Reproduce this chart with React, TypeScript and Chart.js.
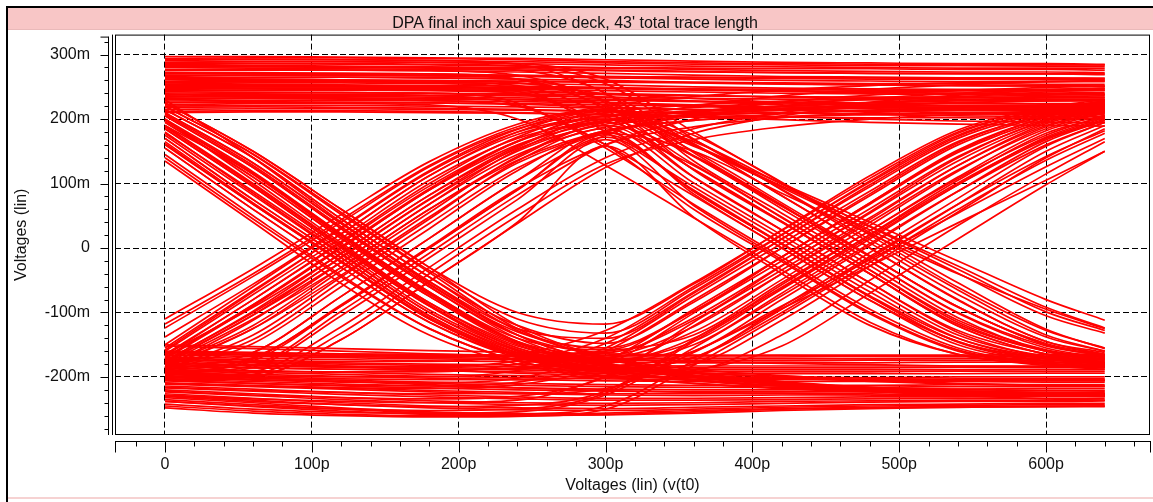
import React, { useEffect, useRef } from 'react';
import { Chart, registerables } from 'chart.js';

Chart.register(...registerables);

// ---------- text ----------
const chartTitle = "DPA final inch xaui spice deck, 43' total trace length";
const xAxisTitle = 'Voltages (lin) (v(t0)';
const yAxisTitle = 'Voltages (lin)';

// ---------- ticks ----------
const xTickValues = [0, 100, 200, 300, 400, 500, 600];
const xTickLabels = ['0', '100p', '200p', '300p', '400p', '500p', '600p'];
const yTickValues = [-200, -100, 0, 100, 200, 300];
const yTickLabels = ['-200m', '-100m', '0', '100m', '200m', '300m'];

// ---------- data (time in ps, voltage in mV) ----------
const sampleTimes = [0, 60, 120, 180, 240, 300, 360, 420, 480, 540, 600, 640];

// 1-1-1 : stays high
const highHigh = [
  [297, 297, 296, 295, 294, 292, 290, 288, 287, 286, 286, 285],
  [294, 295, 295, 294, 292, 289, 287, 286, 285, 284, 284, 284],
  [291, 292, 292, 291, 289, 287, 285, 284, 283, 283, 282, 282],
  [288, 289, 289, 288, 286, 284, 282, 281, 280, 279, 279, 279],
  [286, 286, 285, 284, 282, 280, 279, 278, 278, 277, 277, 276],
  [283, 283, 282, 281, 280, 279, 277, 275, 274, 273, 273, 272],
  [281, 281, 280, 279, 278, 276, 274, 272, 271, 271, 270, 270],
  [277, 278, 278, 277, 276, 275, 273, 272, 271, 270, 270, 269],
  [275, 276, 276, 275, 273, 271, 268, 266, 265, 264, 264, 263],
  [272, 272, 271, 270, 268, 266, 264, 263, 262, 262, 261, 261],
  [270, 270, 269, 268, 267, 266, 265, 264, 264, 263, 263, 263],
  [267, 268, 268, 267, 266, 264, 262, 260, 259, 258, 258, 258],
  [264, 265, 265, 264, 262, 260, 257, 255, 253, 252, 252, 251],
  [262, 262, 261, 260, 259, 258, 257, 256, 255, 255, 254, 254],
  [259, 260, 260, 259, 258, 257, 256, 254, 253, 252, 251, 251],
  [257, 258, 258, 257, 255, 253, 250, 248, 247, 246, 246, 245],
  [254, 254, 253, 252, 251, 249, 246, 243, 241, 240, 239, 239],
  [252, 252, 251, 250, 249, 248, 247, 246, 245, 245, 244, 244],
  [249, 250, 250, 249, 248, 247, 245, 244, 243, 242, 242, 241],
  [247, 248, 248, 247, 246, 244, 242, 240, 239, 238, 238, 238],
  [246, 247, 247, 246, 244, 239, 232, 226, 222, 220, 219, 219],
  [244, 245, 245, 244, 242, 240, 237, 234, 232, 231, 230, 230],
  [242, 242, 241, 240, 239, 238, 236, 235, 234, 234, 233, 233],
  [240, 241, 241, 240, 238, 234, 228, 222, 218, 216, 215, 215],
  [237, 238, 238, 237, 236, 234, 232, 231, 230, 229, 229, 229],
  [234, 235, 235, 234, 233, 231, 228, 225, 223, 221, 220, 220],
  [232, 233, 233, 232, 230, 226, 220, 215, 212, 210, 209, 209],
  [231, 232, 232, 231, 230, 229, 227, 226, 225, 224, 224, 224],
  [228, 229, 229, 228, 227, 225, 222, 219, 216, 214, 213, 213],
  [226, 227, 226, 225, 224, 222, 220, 219, 218, 218, 217, 217],
  [225, 226, 226, 225, 223, 219, 214, 210, 207, 205, 204, 204],
  [220, 221, 221, 220, 219, 217, 215, 214, 213, 213, 212, 212],
  [218, 219, 218, 217, 215, 212, 208, 204, 200, 197, 195, 194],
  [215, 216, 216, 215, 214, 212, 210, 209, 208, 208, 207, 207],
  [212, 213, 213, 212, 210, 207, 203, 199, 195, 192, 190, 189],
  [210, 211, 211, 210, 209, 207, 205, 203, 202, 202, 201, 201],
];

// 0-0-0 : stays low
const lowLow = [
  [-238, -246, -253, -258, -260, -259, -256, -252, -249, -247, -246, -245],
  [-235, -243, -250, -256, -259, -258, -254, -250, -248, -247, -246, -246],
  [-232, -240, -248, -254, -257, -256, -252, -249, -247, -246, -245, -245],
  [-229, -236, -243, -248, -251, -252, -250, -247, -245, -244, -243, -243],
  [-226, -233, -240, -245, -248, -249, -247, -245, -243, -242, -241, -241],
  [-223, -229, -235, -240, -243, -244, -243, -241, -239, -238, -238, -237],
  [-220, -226, -232, -237, -240, -241, -240, -238, -237, -236, -236, -236],
  [-217, -222, -227, -231, -234, -236, -236, -235, -234, -233, -233, -233],
  [-214, -219, -224, -228, -231, -233, -233, -232, -231, -231, -230, -230],
  [-211, -215, -219, -223, -226, -228, -229, -228, -228, -227, -227, -227],
  [-209, -213, -217, -221, -224, -226, -226, -225, -225, -224, -224, -224],
  [-206, -210, -214, -217, -220, -222, -223, -223, -222, -222, -221, -221],
  [-204, -207, -211, -214, -217, -219, -220, -220, -219, -219, -218, -218],
  [-201, -204, -207, -210, -213, -215, -216, -216, -216, -215, -215, -215],
  [-199, -202, -205, -208, -210, -212, -213, -213, -213, -212, -212, -212],
  [-196, -201, -207, -212, -217, -221, -224, -226, -228, -229, -229, -229],
  [-194, -196, -199, -202, -204, -206, -207, -207, -207, -206, -206, -206],
  [-191, -193, -196, -199, -201, -203, -204, -204, -204, -203, -203, -203],
  [-189, -191, -193, -196, -198, -200, -201, -201, -201, -200, -200, -200],
  [-184, -186, -188, -190, -192, -194, -195, -195, -195, -195, -194, -194],
  [-181, -183, -185, -187, -189, -191, -192, -192, -192, -191, -191, -191],
  [-179, -181, -183, -185, -187, -188, -189, -189, -189, -189, -188, -188],
  [-176, -178, -180, -182, -184, -185, -186, -186, -186, -185, -185, -185],
  [-174, -176, -178, -180, -181, -182, -183, -183, -183, -183, -183, -182],
  [-172, -177, -183, -189, -194, -198, -201, -203, -204, -205, -205, -205],
  [-169, -171, -173, -175, -176, -177, -178, -178, -178, -177, -177, -177],
  [-166, -168, -170, -172, -173, -174, -175, -175, -174, -174, -174, -173],
  [-164, -166, -168, -170, -171, -172, -172, -172, -172, -171, -171, -171],
  [-162, -163, -165, -167, -168, -169, -169, -169, -168, -168, -168, -167],
  [-160, -162, -164, -165, -166, -167, -167, -166, -166, -166, -165, -165],
  [-152, -156, -160, -164, -168, -172, -176, -179, -181, -183, -184, -184],
  [-150, -153, -156, -159, -162, -164, -166, -167, -168, -168, -168, -168],
];

// 1-0-0 : falls, then stays low
const fallStayLow = [
  [135, 40, -55, -135, -180, -200, -210, -217, -222, -225, -227, -228],
  [145, 50, -42, -125, -175, -198, -210, -218, -223, -226, -228, -229],
  [155, 60, -30, -115, -168, -190, -198, -202, -205, -207, -208, -208],
  [162, 68, -22, -110, -167, -193, -206, -214, -219, -222, -224, -225],
  [170, 75, -15, -105, -163, -186, -194, -199, -202, -204, -205, -205],
  [178, 88, -4, -96, -158, -189, -204, -214, -221, -226, -229, -230],
  [185, 95, 0, -90, -155, -188, -204, -214, -220, -224, -226, -227],
  [195, 110, 15, -75, -146, -180, -193, -201, -207, -211, -213, -214],
  [198, 116, 20, -70, -146, -184, -201, -212, -219, -224, -227, -228],
  [205, 125, 30, -60, -140, -180, -198, -210, -218, -223, -226, -227],
  [210, 132, 38, -52, -135, -178, -197, -209, -217, -222, -225, -226],
  [215, 140, 45, -45, -128, -170, -188, -198, -205, -210, -213, -214],
  [220, 145, 52, -38, -125, -172, -194, -208, -217, -223, -227, -229],
  [225, 150, 60, -30, -120, -170, -193, -207, -216, -222, -226, -228],
  [200, 105, 8, -85, -150, -183, -200, -211, -219, -225, -229, -230],
  [230, 140, 40, -55, -135, -178, -198, -212, -222, -229, -234, -236],
  [180, 85, -8, -100, -160, -190, -205, -214, -220, -224, -226, -227],
  [190, 115, 22, -68, -145, -182, -200, -210, -216, -219, -221, -222],
];

// 1-0-1 : falls, then rises
const fallThenRise = [
  [225, 150, 60, -30, -100, -118, -56, 28, 112, 183, 218, 230],
  [220, 146, 55, -35, -110, -132, -63, 20, 104, 178, 215, 228],
  [215, 140, 45, -45, -120, -148, -84, 0, 84, 163, 208, 224],
  [208, 128, 33, -57, -130, -155, -98, -14, 70, 150, 203, 220],
  [205, 125, 30, -60, -135, -162, -112, -28, 56, 140, 198, 216],
  [198, 114, 18, -72, -145, -166, -122, -40, 44, 128, 193, 213],
  [195, 110, 15, -75, -148, -170, -130, -49, 35, 119, 188, 210],
  [188, 98, 3, -88, -155, -176, -140, -57, 27, 110, 182, 206],
  [185, 95, 0, -90, -158, -178, -150, -70, 14, 98, 172, 202],
  [175, 82, -10, -100, -162, -182, -160, -80, 4, 88, 165, 198],
  [170, 75, -15, -105, -165, -185, -170, -91, -7, 77, 158, 195],
  [165, 70, -20, -108, -166, -187, -170, -100, -16, 68, 150, 190],
  [155, 60, -30, -115, -170, -190, -180, -112, -28, 56, 140, 185],
  [140, 45, -45, -125, -175, -195, -190, -135, -50, 35, 115, 165],
  [200, 118, 22, -68, -140, -158, -98, -14, 70, 152, 203, 220],
  [190, 100, 5, -85, -152, -174, -145, -63, 21, 105, 178, 203],
  [160, 68, -22, -110, -168, -192, -188, -152, -70, 14, 98, 150],
  [210, 132, 38, -52, -125, -140, -70, 14, 98, 173, 213, 227],
];

// 0-1-1 : rises, then stays high
const riseStayHigh = [
  [-110, -32, 52, 134, 192, 220, 235, 245, 252, 256, 258, 259],
  [-124, -44, 40, 126, 185, 210, 222, 228, 232, 235, 237, 238],
  [-150, -60, 30, 118, 180, 205, 212, 216, 219, 221, 222, 223],
  [-155, -66, 22, 112, 176, 205, 218, 225, 230, 233, 235, 236],
  [-160, -72, 15, 105, 170, 198, 206, 210, 212, 214, 215, 215],
  [-167, -80, 8, 96, 165, 198, 212, 220, 226, 230, 233, 234],
  [-170, -88, 0, 90, 160, 196, 212, 220, 225, 228, 230, 231],
  [-175, -100, -15, 75, 150, 195, 220, 236, 246, 253, 258, 260],
  [-178, -104, -22, 68, 145, 188, 206, 215, 221, 225, 228, 229],
  [-180, -110, -30, 60, 136, 182, 198, 204, 207, 209, 210, 211],
  [-185, -125, -42, 48, 132, 180, 198, 208, 214, 218, 221, 222],
  [-188, -142, -52, 38, 124, 180, 204, 216, 222, 226, 228, 229],
  [-190, -162, -75, 15, 105, 175, 208, 226, 237, 244, 249, 251],
  [-197, -172, -88, 2, 92, 160, 188, 202, 210, 215, 218, 219],
  [-195, -182, -98, -8, 82, 160, 200, 220, 232, 240, 246, 248],
  [-200, -192, -122, -30, 60, 140, 185, 210, 226, 237, 245, 248],
  [-202, -196, -132, -40, 50, 130, 168, 188, 200, 207, 211, 213],
  [-205, -200, -142, -52, 38, 125, 178, 205, 222, 234, 242, 246],
  [-165, -92, -8, 82, 154, 192, 208, 214, 217, 219, 220, 221],
];

// 0-1-0 : rises, then falls
const riseThenFall = [
  [-205, -200, -142, -52, 40, 158, 48, -40, -120, -165, -182, -188],
  [-198, -185, -105, -15, 75, 168, 66, -18, -100, -158, -178, -184],
  [-192, -170, -90, 0, 90, 176, 88, 6, -76, -145, -172, -180],
  [-190, -162, -75, 15, 105, 180, 84, 0, -81, -145, -172, -180],
  [-188, -135, -45, 45, 135, 185, 101, 20, -61, -135, -168, -176],
  [-186, -125, -35, 55, 142, 190, 110, 28, -54, -128, -164, -174],
  [-185, -112, -22, 68, 152, 195, 122, 41, -40, -118, -160, -172],
  [-178, -104, -14, 76, 156, 200, 130, 48, -34, -112, -158, -170],
  [-172, -90, 0, 90, 165, 205, 142, 61, -20, -100, -152, -167],
  [-165, -80, 10, 100, 172, 208, 150, 70, -12, -92, -148, -165],
  [-158, -68, 22, 112, 180, 212, 160, 81, 0, -80, -145, -162],
  [-138, -56, 32, 120, 184, 214, 168, 90, 8, -72, -138, -160],
  [-118, -40, 44, 128, 188, 215, 175, 101, 20, -61, -128, -155],
  [-190, -148, -60, 30, 120, 178, 150, 85, 22, -40, -95, -125],
  [-176, -98, -8, 82, 158, 200, 165, 99, 33, -33, -99, -128],
  [-170, -88, 2, 92, 166, 202, 158, 96, 34, -28, -92, -124],
  [-194, -175, -90, 0, 90, 172, 90, 7, -74, -140, -170, -178],
  [-182, -120, -30, 60, 140, 190, 143, 65, -13, -91, -150, -166],
];

// 1-1-0 : stays high, then falls
const highThenFall = [
  [276, 277, 276, 275, 268, 225, 121, 40, -40, -121, -165, -178],
  [280, 281, 281, 280, 276, 240, 135, 54, -27, -108, -160, -174],
  [254, 256, 256, 255, 248, 180, 95, 14, -68, -140, -172, -180],
  [266, 268, 268, 267, 262, 215, 110, 28, -54, -131, -170, -180],
  [238, 240, 241, 240, 225, 155, 68, -14, -95, -155, -178, -184],
  [250, 252, 252, 251, 243, 190, 88, 7, -75, -146, -175, -182],
  [262, 264, 265, 264, 262, 228, 143, 65, -13, -91, -150, -168],
  [235, 237, 237, 236, 222, 160, 60, -21, -102, -160, -180, -186],
  [284, 286, 286, 285, 283, 255, 169, 91, 13, -65, -135, -160],
  [288, 289, 289, 288, 286, 262, 180, 102, 24, -54, -126, -156],
  [222, 224, 224, 222, 200, 128, 47, -34, -115, -165, -180, -185],
  [256, 258, 258, 257, 252, 205, 122, 41, -40, -121, -165, -177],
  [248, 250, 250, 249, 248, 238, 160, 94, 28, -39, -105, -132],
  [270, 271, 271, 270, 262, 220, 160, 100, 40, -20, -80, -112],
  [243, 245, 246, 245, 240, 190, 128, 47, -34, -115, -160, -172],
  [258, 260, 260, 259, 256, 228, 162, 81, 0, -81, -145, -165],
  [230, 232, 231, 229, 220, 160, 81, 0, -81, -150, -176, -182],
  [292, 293, 292, 291, 285, 240, 148, 67, -20, -101, -155, -170],
];

// 0-0-1 : stays low, then rises
const lowThenRise = [
  [-228, -234, -238, -240, -236, -198, -121, -40, 40, 121, 185, 210],
  [-238, -245, -250, -252, -250, -225, -145, -64, 17, 98, 168, 198],
  [-205, -210, -213, -214, -208, -175, -95, -14, 68, 148, 200, 218],
  [-222, -228, -232, -234, -230, -200, -115, -34, 47, 128, 190, 212],
  [-186, -190, -192, -192, -180, -148, -68, 14, 95, 170, 210, 225],
  [-210, -214, -217, -218, -212, -182, -101, -20, 61, 142, 197, 216],
  [-242, -250, -255, -256, -254, -228, -155, -74, 7, 88, 160, 195],
  [-195, -198, -200, -200, -190, -155, -74, 7, 88, 165, 207, 222],
  [-170, -174, -176, -176, -165, -128, -54, 27, 108, 180, 215, 228],
  [-248, -256, -260, -262, -261, -250, -182, -104, -22, 60, 136, 178],
  [-216, -221, -224, -226, -226, -218, -162, -90, -18, 54, 126, 170],
  [-178, -182, -184, -184, -175, -140, -60, 21, 102, 175, 212, 226],
  [-196, -200, -203, -204, -204, -198, -160, -94, -28, 39, 105, 150],
  [-230, -238, -243, -246, -244, -222, -142, -61, 20, 101, 170, 200],
  [-182, -186, -188, -189, -186, -172, -108, -27, 54, 135, 195, 215],
  [-245, -253, -258, -260, -258, -245, -175, -95, -13, 68, 142, 182],
  [-200, -205, -208, -209, -202, -160, -81, 0, 81, 160, 205, 220],
  [-162, -165, -167, -168, -168, -160, -135, -54, 27, 108, 175, 205],
];

const allTraces = [
  ...highHigh,
  ...lowLow,
  ...fallStayLow,
  ...fallThenRise,
  ...riseStayHigh,
  ...riseThenFall,
  ...highThenFall,
  ...lowThenRise,
];

const FONT = "'Liberation Sans', Arial, sans-serif";

const framePlugin = {
  id: 'frame',
  beforeDraw(chart: any) {
    const { ctx, width, height } = chart;
    ctx.save();
    ctx.fillStyle = '#ffffff';
    ctx.fillRect(0, 0, width, height);
    // window border (left / top)
    ctx.fillStyle = '#000000';
    ctx.fillRect(6, 6, width - 6, 2);
    ctx.fillRect(6, 6, 2, height - 6);
    // pink title band
    ctx.fillStyle = '#f8c6c6';
    ctx.fillRect(8, 8, width - 8, 21);
    ctx.fillStyle = '#e9b9b9';
    ctx.fillRect(8, 29, width - 8, 1);
    // bottom pink rule
    ctx.fillStyle = '#f6d2d2';
    ctx.fillRect(8, 497, width - 8, 2);
    ctx.restore();
  },
  afterDraw(chart: any) {
    const { ctx, chartArea: ca, scales } = chart;
    const xs = scales.x;
    const ys = scales.y;
    ctx.save();
    ctx.strokeStyle = '#000000';
    ctx.lineWidth = 1;
    // plot box
    ctx.strokeRect(ca.left + 0.5, ca.top + 0.5, ca.right - ca.left - 1, ca.bottom - ca.top - 1);
    ctx.beginPath();
    ctx.moveTo(ca.left - 2.5, ca.top);
    ctx.lineTo(ca.left - 2.5, ca.bottom);
    ctx.stroke();

    // y axis ruler
    const ax = Math.round(ca.left - 7) + 0.5;
    ctx.beginPath();
    ctx.moveTo(ax, ca.top + 2);
    ctx.lineTo(ax, ca.bottom);
    for (let v = -280; v <= 320; v += 20) {
      const y = Math.round(ys.getPixelForValue(v)) + 0.5;
      const len = v % 100 === 0 ? 8 : 4;
      ctx.moveTo(ax, y);
      ctx.lineTo(ax - len, y);
    }
    ctx.moveTo(ax, ca.top + 2.5);
    ctx.lineTo(ax - 8, ca.top + 2.5);
    ctx.stroke();

    // x axis ruler
    const ay = Math.round(ca.bottom + 6) + 0.5;
    ctx.beginPath();
    ctx.moveTo(ca.left, ay);
    ctx.lineTo(ca.right + 1, ay);
    for (let v = -20; v <= 660; v += 20) {
      const x = Math.round(xs.getPixelForValue(v)) + 0.5;
      const len = v % 100 === 0 ? 11 : 5;
      ctx.moveTo(x, ay);
      ctx.lineTo(x, ay + len);
    }
    ctx.moveTo(ca.left + 0.5, ay);
    ctx.lineTo(ca.left + 0.5, ay + 11);
    ctx.moveTo(ca.right + 0.5, ay);
    ctx.lineTo(ca.right + 0.5, ay + 11);
    ctx.stroke();
    ctx.restore();
  },
};

export default function App() {
  const canvasRef = useRef<HTMLCanvasElement | null>(null);

  useEffect(() => {
    document.body.style.margin = '0';
    const canvas = canvasRef.current;
    if (!canvas) return;

    const datasets = allTraces.map((vals) => ({
      data: vals.map((v, i) => ({ x: sampleTimes[i], y: v })),
      borderColor: '#ff0000',
      borderWidth: 1.7,
      pointRadius: 0,
      fill: false,
      cubicInterpolationMode: 'monotone' as const,
    }));

    const chart = new Chart(canvas, {
      type: 'line',
      data: { datasets },
      plugins: [framePlugin],
      options: {
        responsive: false,
        animation: false,
        events: [],
        layout: { padding: { left: 0, right: 3, top: 0, bottom: 0 } },
        plugins: {
          legend: { display: false },
          tooltip: { enabled: false },
          title: {
            display: true,
            text: chartTitle,
            color: '#111111',
            font: { family: FONT, size: 16, weight: 'normal' },
            padding: { top: 12.4, bottom: 1.4 },
          },
        },
        scales: {
          x: {
            type: 'linear',
            position: 'bottom',
            min: -34.05,
            max: 670.8,
            afterBuildTicks: (s: any) => {
              s.ticks = xTickValues.map((v) => ({ value: v }));
            },
            afterFit: (s: any) => {
              s.height = 67;
            },
            grid: { color: '#000000', lineWidth: 1, drawTicks: false, tickLength: 0 },
            border: { display: false, dash: [6, 3] },
            ticks: {
              autoSkip: false,
              maxRotation: 0,
              padding: 20.4,
              color: '#111111',
              font: { family: FONT, size: 16 },
              callback: (_v: any, i: number) => xTickLabels[i],
            },
            title: {
              display: true,
              text: xAxisTitle,
              color: '#111111',
              font: { family: FONT, size: 16 },
              padding: { top: 0, bottom: 6.4 },
            },
          },
          y: {
            type: 'linear',
            min: -290,
            max: 331,
            afterBuildTicks: (s: any) => {
              s.ticks = yTickValues.map((v) => ({ value: v }));
            },
            afterFit: (s: any) => {
              s.width = 115;
            },
            grid: { color: '#000000', lineWidth: 1, drawTicks: false, tickLength: 0 },
            border: { display: false, dash: [6, 3] },
            ticks: {
              autoSkip: false,
              padding: 25,
              color: '#111111',
              font: { family: FONT, size: 16 },
              callback: (_v: any, i: number) => yTickLabels[i],
            },
            title: {
              display: true,
              text: yAxisTitle,
              color: '#111111',
              font: { family: FONT, size: 16 },
              padding: { top: 12.4, bottom: 0 },
            },
          },
        },
      },
    });

    return () => chart.destroy();
  }, []);

  return (
    <div style={{ width: 1153, height: 502, position: 'relative' }}>
      <canvas ref={canvasRef} width={1153} height={502} style={{ display: 'block' }} />
    </div>
  );
}
